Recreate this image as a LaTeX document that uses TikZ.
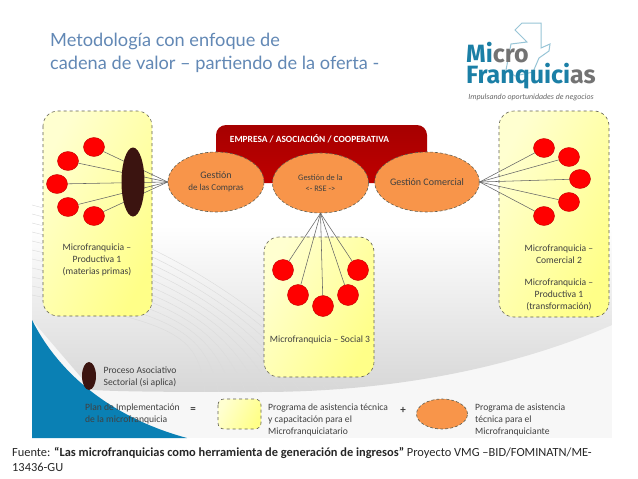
\documentclass[tikz,border=0pt]{standalone}
\usepackage{fontspec}
\setmainfont{Carlito}
\newfontfamily\titlefont{Lato}
\newfontfamily\logofont{Fira Sans}
\usetikzlibrary{shapes.geometric}
\definecolor{txt}{HTML}{404040}
\definecolor{ttl}{HTML}{6288B5}
\definecolor{teal}{HTML}{1B7FA6}
\definecolor{blu}{HTML}{0A80B4}
\definecolor{orng}{HTML}{F8954A}
\definecolor{bord}{HTML}{605F50}
\definecolor{darkb}{HTML}{3B1410}
\definecolor{ylight}{HTML}{FFFFD0}
\definecolor{ydeep}{HTML}{FFFF88}
\tikzset{
  x=1pt,y=-1pt,
  lbl/.style={font=\fontsize{9.6}{12}\selectfont,text=txt,align=center,inner sep=0pt},
  lgd/.style={font=\fontsize{9.6}{12}\selectfont,text=txt,align=left,anchor=west,inner sep=0pt},
  ybox/.style={draw=bord,dashed,line width=.6pt,rounded corners=#1,left color=ylight,right color=ydeep,shading angle=62},
  ybox/.default=15pt,
  orange ell/.style={ellipse,draw=bord,densely dashed,line width=.6pt,fill=orng,inner sep=0pt,minimum width=96pt,minimum height=60pt,text=txt,align=center},
  redc/.style={ellipse,draw=red!75!black,line width=.4pt,fill=red,inner sep=0pt,minimum width=21pt,minimum height=19pt},
  dark/.style={ellipse,fill=darkb,inner sep=0pt},
  conn/.style={draw=black!60,line width=.55pt},
  stripe/.style={draw=black!14,line width=.4pt}
}
\begin{document}
\begin{tikzpicture}
\useasboundingbox (0,0) rectangle (638,479);
% background of the slide
\fill[black!3] (32,200) rectangle (612,438);
\begin{scope}
  \clip (32,10) -- (612,10) -- (612,325) .. controls (520,365) and (400,392) .. (260,392) .. controls (190,392) and (130,392) .. (92,390) -- (32,320) -- cycle;
  \shade[top color=white,bottom color=black!16] (32,225) rectangle (612,395);
  \fill[white] (32,10) rectangle (612,225);
  \foreach \k in {0,...,10}{
    \draw[stripe] (32,{205+\k*9}) .. controls ({150+\k*2},{235+\k*9}) and ({260-\k*6},{300+\k*3}) .. ({345-\k*14},395);
  }
\end{scope}
\fill[blu] (32,320) .. controls (62,380) and (120,420) .. (187,438) -- (32,438) -- cycle;
% title
\node[anchor=base west,inner sep=0pt,text=ttl,font=\titlefont\fontsize{18.2}{23}\selectfont] (t1) at (50,46) {Metodología con enfoque de};
\node[anchor=base west,inner sep=0pt,text=ttl,font=\titlefont\fontsize{18.2}{23}\selectfont] (t2) at (50,69) {cadena de valor – partiendo de la oferta -};
% logo
\draw[draw=teal!45,line width=1pt,fill=white] (515,30) -- (522,23) -- (541,23) -- (541,48) -- (550,44) -- (549,51) -- (539,58) -- (533,72) -- (515,76) -- (506,70) -- (511,44) -- (527,42) -- cycle;
\node[anchor=base west,inner sep=0pt,align=left,font=\logofont\bfseries\fontsize{25}{21}\selectfont] (l1) at (466,83) {\textcolor{teal}{Mi}\textcolor{black!55}{cro}\\\textcolor{teal}{Franquici}\textcolor{black!55}{as}};
\node[anchor=base,inner sep=0pt,text=black!60,font=\fontsize{7.9}{9}\selectfont\itshape] (l3) at (531,99) {Impulsando oportunidades de negocios};
% yellow boxes
\shade[ybox] (43,111) rectangle (152,316);
\shade[ybox] (499,111) rectangle (609,317);
\shade[ybox] (264,237) rectangle (374,377);
% red panel
\shade[rounded corners=10pt,top color=red!65!black,bottom color=red!75!black] (216,125) rectangle (427,183);
\node[text=white,inner sep=0pt,font=\bfseries\fontsize{9.4}{10}\selectfont] (emp) at (309.5,138.5) {EMPRESA / ASOCIACIÓN / COOPERATIVA};
% main ellipses
\node[orange ell,font=\fontsize{9}{10.5}\selectfont] (com) at (216,182) {{\fontsize{10}{11}\selectfont Gestión}\\[1pt]de las Compras};
\node[orange ell,font=\fontsize{8.4}{10.5}\selectfont] (rse) at (320.5,183) {Gestión de la\\<- RSE ->};
\node[orange ell,font=\fontsize{10}{12}\selectfont] (cme) at (427,182) {Gestión Comercial};
% left reds
\node[redc] (a1) at (94,147) {};
\node[redc] (a2) at (68,161) {};
\node[redc] (a3) at (57,184) {};
\node[redc] (a4) at (68,207) {};
\node[redc] (a5) at (94,216) {};
\foreach \n in {a1,a2,a3,a4,a5} \draw[conn] (\n) -- (com.west);
\node[dark,minimum width=23pt,minimum height=69pt] (aso) at (133,182) {};
% right reds
\node[redc] (b1) at (544,148) {};
\node[redc] (b2) at (569,157) {};
\node[redc] (b3) at (580,179) {};
\node[redc] (b4) at (569,202) {};
\node[redc] (b5) at (544,216) {};
\foreach \n in {b1,b2,b3,b4,b5} \draw[conn] (\n) -- (cme.east);
% middle reds
\node[redc,minimum height=21pt] (c1) at (283,270) {};
\node[redc,minimum height=21pt] (c2) at (298,295) {};
\node[redc,minimum height=21pt] (c3) at (323,306) {};
\node[redc,minimum height=21pt] (c4) at (348,295) {};
\node[redc,minimum height=21pt] (c5) at (358,270) {};
\foreach \n in {c1,c2,c3,c4,c5} \draw[conn] (\n) -- (rse.south);
% box labels
\node[lbl] (p1) at (97,260) {Microfranquicia –\\Productiva 1\\(materias primas)};
\node[lbl] (p2) at (320,340) {Microfranquicia – Social 3};
\node[lbl] (p3) at (559,254) {Microfranquicia –\\Comercial 2};
\node[lbl] (p4) at (559,295) {Microfranquicia –\\Productiva 1\\(transformación)};
% legend
\node[dark,minimum width=14pt,minimum height=28pt] (g1) at (89,376) {};
\node[lbl] (g2) at (140,376.5) {Proceso Asociativo\\Sectorial (si aplica)};
\node[lgd] (g3) at (85,414) {Plan de Implementación\\de la microfranquicia};
\node[font=\bfseries\fontsize{11}{12}\selectfont,text=txt,inner sep=0pt] (g4) at (193,410) {=};
\shade[ybox=6pt] (218,399) rectangle (261,429);
\node[lgd] (g5) at (268,420) {Programa de asistencia técnica\\y capacitación para el\\Microfranquiciatario};
\node[font=\bfseries\fontsize{11}{12}\selectfont,text=txt,inner sep=0pt] (g6) at (403,410) {+};
\node[orange ell,minimum width=51pt,minimum height=30pt] (g7) at (442,414) {};
\node[lgd] (g8) at (475,420) {Programa de asistencia\\técnica para el\\Microfranquiciante};
% source
\node[anchor=base west,inner sep=0pt,text=black!85,font=\fontsize{12.4}{14}\selectfont] (f1) at (12,456) {Fuente: \textbf{“Las microfranquicias como herramienta de generación de ingresos”} Proyecto VMG –BID/FOMINATN/ME-};
\node[anchor=base west,inner sep=0pt,text=black!85,font=\fontsize{12.4}{14}\selectfont] (f2) at (12,471) {13436-GU};
\end{tikzpicture}
\end{document}
